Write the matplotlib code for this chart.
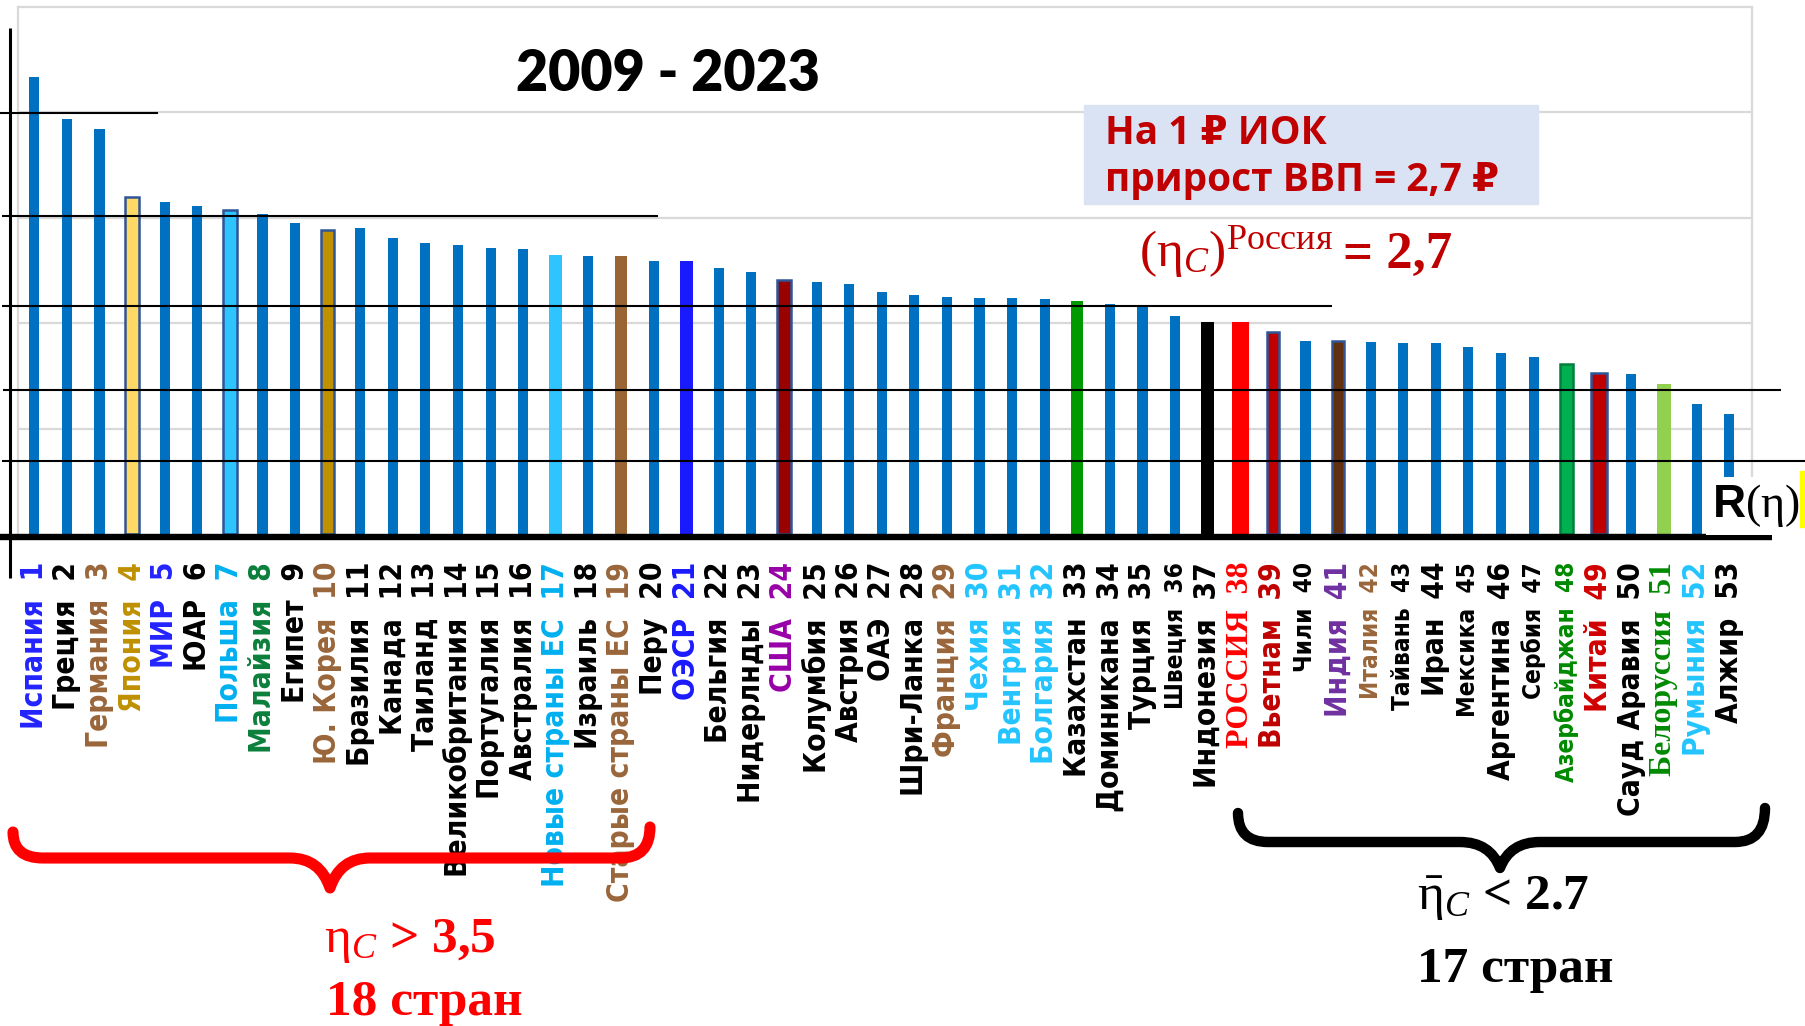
import numpy as np
import matplotlib
matplotlib.use("Agg")
import matplotlib.pyplot as plt
from matplotlib.lines import Line2D
from matplotlib.path import Path
from matplotlib.patches import PathPatch, Rectangle

plt.rcParams.update({
    "font.family":      "DejaVu Sans",
    "mathtext.fontset": "custom",
    "mathtext.rm":      "Liberation Serif",
    "mathtext.it":      "Liberation Serif:italic",
    "mathtext.bf":      "Liberation Serif:bold",
    "mathtext.fallback": "cm",
})

W, H = 1806, 1026

# ── данные ────────────────────────────────────────────────────────
countries = [
    "Испания", "Греция", "Германия", "Япония", "МИР", "ЮАР", "Польша",
    "Малайзия", "Египет", "Ю. Корея", "Бразилия", "Канада", "Таиланд",
    "Великобритания", "Португалия", "Австралия", "Новые страны ЕС",
    "Израиль", "Старые страны ЕС", "Перу", "ОЭСР", "Бельгия", "Нидерлнды",
    "США", "Колумбия", "Австрия", "ОАЭ", "Шри-Ланка", "Франция", "Чехия",
    "Венгрия", "Болгария", "Казахстан", "Доминикана", "Турция", "Швеция",
    "Индонезия", "РОССИЯ", "Вьетнам", "Чили", "Индия", "Италия", "Тайвань",
    "Иран", "Мексика", "Аргентина", "Сербия", "Азербайджан", "Китай",
    "Сауд Аравия", "Белоруссия", "Румыния", "Алжир",
]
ranks = list(range(1, len(countries) + 1))
r_eta = [
    4.34, 3.94, 3.84, 3.20, 3.15, 3.11, 3.07, 3.04, 2.95, 2.88,
    2.90, 2.81, 2.76, 2.74, 2.71, 2.70, 2.65, 2.64, 2.64, 2.59,
    2.59, 2.52, 2.49, 2.41, 2.39, 2.37, 2.30, 2.27, 2.25, 2.24,
    2.24, 2.23, 2.21, 2.18, 2.15, 2.07, 2.01, 2.01, 1.92, 1.83,
    1.83, 1.82, 1.81, 1.81, 1.77, 1.72, 1.68, 1.61, 1.53, 1.52,
    1.42, 1.23, 1.14,
]

# ── оформление ────────────────────────────────────────────────────
BAR_BLUE = "#0070C0"
OUTLINE = "#2F5597"
# rank: (fill, edge, width)
BAR_STYLE = {
    4:  ("#FFD966", OUTLINE,   0.42),
    7:  ("#2EC5FF", OUTLINE,   0.42),
    10: ("#BF9000", OUTLINE,   0.42),
    17: ("#2EC5FF", None,      0.40),
    19: ("#996633", None,      0.38),
    21: ("#1A1AFF", None,      0.40),
    24: ("#990000", OUTLINE,   0.42),
    33: ("#009900", None,      0.38),
    37: ("#000000", None,      0.38),
    38: ("#FF0000", None,      0.52),
    39: ("#C00000", OUTLINE,   0.38),
    41: ("#603010", OUTLINE,   0.38),
    48: ("#00B050", "#00803C", 0.40),
    49: ("#C00000", OUTLINE,   0.48),
    51: ("#92D050", None,      0.45),
}
LABEL_COLOR = {
    1: "#2323FF", 3: "#99663A", 4: "#BF9000", 5: "#2323FF", 7: "#00B0F0",
    8: "#0A7F3A", 10: "#99663A", 17: "#00B0F0", 19: "#99663A", 21: "#1A1AFF",
    24: "#9900A8", 29: "#99663A", 30: "#22C4FF", 31: "#22C4FF", 32: "#22C4FF",
    38: "#FF0000", 39: "#C00000", 41: "#7030A0", 42: "#99663A", 48: "#008A00",
    49: "#D00000", 51: "#008A00", 52: "#22C4FF",
}
SERIF_LABELS = {38, 51}
SMALL_LABELS = {36, 40, 42, 43, 45, 47, 48}
RED = "#C00000"


def fx(x):
    return x / W


def fy(y):
    return 1 - y / H


def fig_line(fig, x0, y0, x1, y1, lw, color="black", z=5):
    fig.add_artist(Line2D([fx(x0), fx(x1)], [fy(y0), fy(y1)], color=color,
                          lw=lw, transform=fig.transFigure, zorder=z,
                          solid_capstyle="butt"))


def brace(fig, x0, ye0, x1, ye1, yh, xt, yt, color, lw):
    pts = [
        (x0, ye0),
        (x0, yh), (x0 + 30, yh),
        (xt - 40, yh),
        (xt - 10, yh), (xt, yt),
        (xt + 10, yh), (xt + 40, yh),
        (x1 - 30, yh),
        (x1, yh), (x1, ye1),
    ]
    codes = [Path.MOVETO, Path.CURVE3, Path.CURVE3, Path.LINETO,
             Path.CURVE3, Path.CURVE3, Path.CURVE3, Path.CURVE3,
             Path.LINETO, Path.CURVE3, Path.CURVE3]
    path = Path([(fx(x), fy(y)) for x, y in pts], codes)
    fig.add_artist(PathPatch(path, fill=False, edgecolor=color, lw=lw,
                             capstyle="round", joinstyle="round",
                             transform=fig.transFigure, zorder=6))


fig = plt.figure(figsize=(W / 100, H / 100), dpi=100)
ax = fig.add_axes([fx(18), fy(534), (1752 - 18) / W, (534 - 7) / H])

x = np.arange(len(countries))
colors = [BAR_STYLE.get(r, (BAR_BLUE, None, 0.31))[0] for r in ranks]
edges = [BAR_STYLE.get(r, (BAR_BLUE, None, 0.31))[1] or "none" for r in ranks]
widths = [BAR_STYLE.get(r, (BAR_BLUE, None, 0.31))[2] for r in ranks]
ax.bar(x, r_eta, width=widths, color=colors, edgecolor=edges, linewidth=1.8,
       zorder=2)

ax.set_xlim(-0.5, 52.7)
ax.set_ylim(0, 5)
ax.set_yticks([1, 2, 3, 4])
ax.set_yticklabels([])
ax.yaxis.grid(True, color="#D9D9D9", lw=1.6, zorder=0)
ax.tick_params(axis="y", length=0)
for side in ("top", "right", "left"):
    ax.spines[side].set_color("#D9D9D9")
    ax.spines[side].set_linewidth(1.6)
ax.spines["bottom"].set_visible(False)

ax.set_xticks(x)
ax.set_xticklabels([f"{c}  {r}" for c, r in zip(countries, ranks)],
                   rotation=90, fontsize=21.5, fontweight="bold",
                   fontstretch="condensed")
ax.tick_params(axis="x", length=0, pad=20)
for r, lbl in zip(ranks, ax.get_xticklabels()):
    lbl.set_color(LABEL_COLOR.get(r, "black"))
    if r in SERIF_LABELS:
        lbl.set_family("Liberation Serif")
        lbl.set_fontsize(23)
    if r in SMALL_LABELS:
        lbl.set_fontsize(17.5)

# ── линии поверх диаграммы ────────────────────────────────────────
fig_line(fig, 0, 536.5, 1772, 536.5, 4.6)
fig_line(fig, 10, 28, 10, 578, 2.2)
for yy, xa, xb in [(113, 0, 158), (215.7, 2, 658), (305.5, 2, 1332),
                   (390.5, 3, 1781), (460.5, 2, 1806)]:
    fig_line(fig, xa, yy, xb, yy, 1.5)

# ── подписи ───────────────────────────────────────────────────────
fig.text(fx(668), fy(74), "2009 - 2023", fontsize=40, fontweight="heavy",
         family=["Lato", "DejaVu Sans"], ha="center", va="center")

fig.add_artist(Rectangle((fx(1084), fy(204)), (1538 - 1084) / W,
                         (204 - 105) / H, color="#DAE3F3",
                         transform=fig.transFigure, zorder=3))
fig.text(fx(1105), fy(134), "На 1 ₽ ИОК", fontsize=28, fontweight="bold",
         color=RED, family=["Open Sans", "DejaVu Sans"], va="center",
         zorder=4)
fig.text(fx(1105), fy(180), "прирост ВВП = 2,7 ₽", fontsize=28,
         fontweight="bold", color=RED, family=["Open Sans", "DejaVu Sans"],
         va="center", zorder=4)

fig.text(fx(1139), fy(266), r"$(\mathrm{\eta}_{C})^{\mathrm{Россия}}$",
         fontsize=37, color=RED, va="baseline")
fig.text(fx(1343), fy(268), "= 2,7", fontsize=38, fontweight="bold",
         color=RED, family="Liberation Serif", va="baseline")

fig.text(fx(1712), fy(517), r"R$(\mathrm{\eta})$", fontsize=33,
         fontweight="bold", family="Liberation Sans", va="baseline",
         zorder=7, bbox=dict(facecolor="white", edgecolor="none", pad=4))
fig.add_artist(Rectangle((fx(1800), fy(527)), 6 / W, 56 / H,
                         color="#FFFF00", transform=fig.transFigure, zorder=8))

brace(fig, 13, 832, 650, 827, 858, 330, 888, "#FF0000", 8)
brace(fig, 1238, 813, 1765, 808, 842, 1500, 868, "black", 7.5)

fig.text(fx(324), fy(952), r"$\mathrm{\eta}_{C}$ > 3,5", fontsize=37,
         fontweight="bold", color="#FF0000", family="Liberation Serif",
         va="baseline")
fig.text(fx(326), fy(1015), "18 стран", fontsize=37, fontweight="bold",
         color="#FF0000", family="Liberation Serif", va="baseline")
fig.text(fx(1417), fy(910), r"$\bar{\mathrm{\eta}}_{C}$ < 2.7", fontsize=37,
         fontweight="bold", color="black", family="Liberation Serif",
         va="baseline")
fig.text(fx(1417), fy(982), "17 стран", fontsize=37, fontweight="bold",
         color="black", family="Liberation Serif", va="baseline")

fig.savefig("out.png", dpi=100)
